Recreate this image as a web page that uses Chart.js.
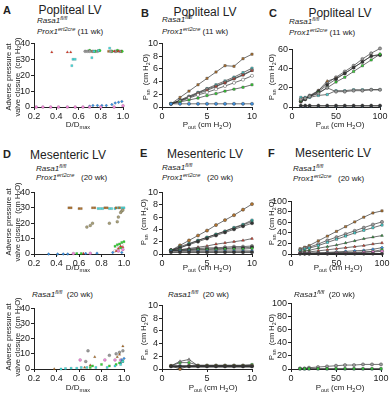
<!DOCTYPE html>
<html>
<head>
<meta charset="utf-8">
<script src="https://cdn.jsdelivr.net/npm/chart.js@4"></script>
<style>
body { margin: 0; background: #fff; }
#fig { position: relative; width: 391px; height: 395px; overflow: hidden; font-family: "Liberation Sans", Arial, sans-serif; color: #222; }
#fig canvas { position: absolute; }
.t { position: absolute; white-space: nowrap; line-height: 1; }
.lab { font-weight: bold; font-size: 11px; transform: translateY(-50%); }
.ttl { font-size: 12px; transform: translate(-50%, -50%); }
.gen { font-size: 8px; transform: translateY(-50%); }
.gen i { font-style: italic; }
.xt { font-size: 8px; transform: translate(-50%, -50%); }
.yt { font-size: 7.5px; transform: translate(-50%, -50%) rotate(-90deg); text-align: center; line-height: 1.25; }
sup { font-size: 0.7em; vertical-align: 0.5em; line-height: 0; }
sub { font-size: 0.7em; vertical-align: -0.3em; line-height: 0; }
</style>
</head>
<body>
<div id="fig"></div>
<script>
// colours used in the original
const brown = '#b5752e', cyan = '#45e0e0', green = '#33dd33', red = '#e8402c',
      blue = '#3b8fe0', grey = '#9a9a9a', dark = '#333', pink = '#f08ad8',
      olive = '#a8a07a', white = '#ffffff';

// ---- A: Popliteal LV, adverse pressure vs D/Dmax
const aRed = [[0.36,34.5],[0.50,34.5],[0.53,34.5],[0.92,35],[0.96,35]];
const aCyan = [[0.54,26],[0.55,30],[0.57,30],[0.72,31],[0.88,37],[0.74,35],[0.78,35.5]];
const aGreen = [[0.70,35.5],[0.75,35],[0.79,35.5],[0.90,35],[0.95,35.5],[0.99,35]];
const aGrey = [[0.66,35],[0.68,35],[0.70,35],[0.73,35],[0.77,35],[0.89,35],[0.93,35],[0.97,35]];
const aBrown = [[0.72,35],[0.87,35],[0.94,35],[0.98,35]];
const aBlue = [[0.70,0.5],[0.73,1],[0.77,1],[0.81,1],[0.85,1],[0.90,1.5],[0.93,2.5],[0.96,3],[0.99,3.5]];
const aPink = [[0.22,0],[0.28,0],[0.35,0],[0.42,0],[0.50,0],[0.57,0],[0.64,0],[0.70,0],[0.80,0],[0.92,0],[1.0,0.8]];

// ---- D (top): Mesenteric LV, Prox1 ert2cre
const dBrown = [[0.51,30],[0.53,30],[0.60,29.5],[0.62,29.5],[0.72,30],[0.74,30],[0.83,30],[0.85,30],[0.93,30],[0.96,30]];
const dCyan = [[0.77,29.5],[0.79,29.5],[0.81,29.5],[0.87,29.5],[0.89,29.5],[0.92,29.5],[0.95,30],[0.98,30],[1.0,30]];
const dOlive = [[0.67,17.5],[0.70,18.5],[0.72,20],[0.87,20],[0.94,21],[0.95,24],[0.97,27],[0.98,28],[0.99,28.5]];
const dGreen = [[0.58,0.3],[0.62,0.3],[0.92,5],[0.94,6],[0.96,6.5],[0.98,7.5],[1.0,8],[0.97,4]];
const dRed = [[0.64,0.3],[0.93,2],[0.95,3.5],[0.97,5],[0.99,4.5]];
const dPink = [[0.55,0.3],[0.70,0.5],[0.95,2],[0.99,3]];
const dBlue = [[0.33,0],[0.41,0],[0.46,0],[0.50,0],[0.66,0.3],[0.76,0.5],[0.90,1],[0.98,1]];
const dOpen = [[0.92,2],[0.95,4],[0.98,6]];

// ---- D (bottom): Mesenteric LV, Rasa1 fl/fl only
const d2Grey = [[0.66,5],[0.68,12],[0.87,9],[0.93,10],[0.96,11],[0.99,12]];
const d2Brown = [[0.38,0],[0.74,8],[0.94,8],[0.96,9.5],[0.99,15],[0.70,2.5],[0.65,1]];
const d2Pink = [[0.61,6],[0.83,6],[0.92,6],[0.97,6]];
const d2Green = [[0.70,1],[0.72,2],[0.80,3],[0.87,2],[0.93,3],[0.96,4],[0.99,5]];
const d2Cyan = [[0.44,0],[0.48,0.3],[0.53,0.5],[0.58,0.5],[0.62,1],[0.67,1],[0.75,1],[0.85,1],[0.92,2],[0.97,3],[0.99,5]];
const d2Blue = [[0.98,6],[1.0,7],[0.97,4]];

// ---- Pout steps
const pLow = [1,2,3,4,5,6,7,8,9,10];
const pHigh = [10,15,20,30,40,50,60,70,80,90,100];

// ---- B: Popliteal, Pout 1-10
const bBrown = [0.5,1.5,2.5,3.5,4.5,5.5,6.5,6.4,7.6,8.3];
const bCyan = [0.5,1.1,1.7,2.3,2.9,3.5,4.1,4.7,5.4,6.1];
const bGrey = [0.5,1.0,1.6,2.2,2.8,3.3,3.9,4.5,5.1,5.8];
const bRed = [0.5,1.0,1.5,2.1,2.6,3.2,3.8,4.4,5.0,5.7];
const bOpen = [0.5,0.9,1.4,1.9,2.3,2.8,3.3,3.8,4.3,4.9];
const bGreen = [0.5,0.8,1.1,1.4,1.8,2.1,2.5,2.8,3.1,3.5];
const bBlue = [0.5,0.5,0.5,0.5,0.5,0.5,0.5,0.5,0.5,0.5];

// ---- C: Popliteal, Pout 10-100
const cGrey = [6,9,12,17,25,31,37,43,50,56,61];
const cBrown = [5,8,11,17,27,30,35,41,47,53,55];
const cBlack = [6,8,11,16,23,29,35,41,47,53,54];
const cGreen = [7,9,11,15,20,26,31,37,43,49,55];
const cCyan = [10,10,10,12,13,17,17,18,18,18,18];
const cDark = [8,9,11,14,20,16,16,17,17,18,18];
const cBlue = [1,1,1,1,1,1,1,1,1,1,1];
const cFlat = [1.5,1.5,1.5,1.5,1.5,1.5,1.5,1.5,1.5,1.5,1.5];

// ---- E: Mesenteric, Pout 1-10
const eBrown = [0.6,1.4,2.2,3.0,3.8,4.7,5.5,6.3,7.2,8.1];
const eCyan = [0.6,1.0,1.6,2.2,2.7,3.2,3.7,4.3,4.8,5.5];
const eTeal = [0.6,1.2,1.7,2.2,2.7,3.2,3.7,4.2,4.7,5.3];
const eBlack = [0.6,1.0,1.5,2.0,2.5,3.0,3.5,4.0,4.5,5.0];
const eRed = [0.6,0.7,0.9,1.1,1.3,1.6,1.8,2.0,2.2,2.5];
const eGrey = [0.6,0.7,0.8,0.9,1.0,1.0,1.1,1.2,1.2,1.3];
const eDark = [0.6,0.6,0.7,0.8,0.8,0.9,0.9,1.0,1.0,1.1];
const eGreen = [0.6,0.6,0.6,0.7,0.7,0.7,0.8,0.8,0.8,0.9];
const eBlue = [0.5,0.5,0.5,0.5,0.5,0.5,0.5,0.5,0.5,0.5];
const eFlat = [0.3,0.3,0.3,0.3,0.3,0.3,0.3,0.3,0.3,0.3];

// ---- F: Mesenteric, Pout 10-100
const fBrown = [10,13,16,25,34,43,52,61,70,78,82];
const fGrey = [8,11,13,19,26,32,38,44,50,56,61];
const fCyan = [6,9,11,16,22,28,34,40,45,50,55];
const fGreen = [4,6,7,11,14,17,21,25,29,32,35];
const fRed = [2,3,4,6,8,10,12,14,16,19,21];
const fBlue = [1,1,2,2,3,4,5,6,7,9,12];
const fLime = [1,1,1,2,2,3,3,3,4,5,8];
const fPink = [1,1,1,1,1,2,2,2,3,4,5];
const fBlack = [0.5,0.5,0.5,0.5,0.5,0.5,0.5,0.5,0.5,0.5,0.5];

// ---- E/F bottom: Rasa1 fl/fl
const e2Green = [0.5,1.0,1.0,0.6,0.6,0.6,0.6,0.6,0.6,0.7];
const e2Tri = [0.5,1.2,1.5,0.5,0.5,0.5,0.5,0.5,0.5,0.5];
const e2Brown = [0.5,0.0,0.5,0.5,0.5,0.5,0.5,0.5,0.5,0.5];
const e2Cyan = [0.5,0.5,0.5,0.5,0.5,0.5,0.5,0.5,0.5,0.5];
const e2Black = [0.4,0.4,0.4,0.4,0.4,0.4,0.4,0.4,0.4,0.4];
const f2Grey = [1,1,2,3,4,5,6,6,7,7,7];
const f2Cyan = [0,0,0,0,0,0,0,0,0,0,0];
const f2Green = [0.5,0.5,0.5,0.5,0.5,0.5,0.5,0.5,0.5,0.5,0.5];

const fig = document.getElementById('fig');

function pts(xs, ys) { return xs.map((x, i) => ({ x: x, y: ys[i] })); }
function pairs(arr) { return arr.map(p => ({ x: p[0], y: p[1] })); }

function line(xs, ys, color, shape, lw) {
    return {
        data: pts(xs, ys), showLine: true, borderColor: dark, borderWidth: lw || 0.7,
        pointBackgroundColor: color, pointBorderColor: dark, pointBorderWidth: 0.4,
        pointRadius: 1.6, pointStyle: shape || 'circle', clip: false
    };
}
function dots(arr, color, shape) {
    return {
        data: pairs(arr), showLine: false, pointBackgroundColor: color,
        pointBorderColor: 'rgba(0,0,0,0.35)', pointBorderWidth: 0.4,
        pointRadius: 1.5, pointStyle: shape || 'circle', clip: false
    };
}

function axis(r, size, dir, fixed) {
    return {
        type: 'linear', min: r[0], max: r[1],
        grid: { display: true, drawOnChartArea: false, drawTicks: true, tickLength: 3, color: '#222' },
        border: { display: true, color: '#222', width: 1 },
        ticks: {
            stepSize: r[2], autoSkip: false, maxRotation: 0, padding: 1, color: '#222',
            font: { size: 9, family: 'Liberation Sans' },
            callback: v => fixed ? v.toFixed(1) : v
        },
        afterFit: s => { if (dir === 'x') s.height = size; else s.width = size; }
    };
}

function panel(box, xr, yr, datasets, fixedX) {
    const Wy = 24, Hx = 16, padR = 10, padT = 6;
    const c = document.createElement('canvas');
    const w = box.r - box.l + Wy + padR, h = box.b - box.t + padT + Hx;
    c.width = w; c.height = h;
    c.style.width = w + 'px'; c.style.height = h + 'px';
    c.style.left = (box.l - Wy) + 'px'; c.style.top = (box.t - padT) + 'px';
    fig.appendChild(c);
    new Chart(c, {
        type: 'scatter',
        data: { datasets: datasets },
        options: {
            responsive: false, animation: false, devicePixelRatio: 1,
            layout: { padding: { left: 0, right: padR, top: padT, bottom: 0 } },
            plugins: { legend: { display: false }, tooltip: { enabled: false } },
            scales: { x: axis(xr, Hx, 'x', fixedX), y: axis(yr, Wy, 'y', false) }
        }
    });
}

function txt(cls, html, x, y) {
    const d = document.createElement('div');
    d.className = 't ' + cls;
    d.innerHTML = html;
    d.style.left = x + 'px'; d.style.top = y + 'px';
    fig.appendChild(d);
}

const dRange = [0.2, 1.0, 0.2];

// A
panel({ l: 34, r: 123, t: 43, b: 107 }, dRange, [0, 40, 10], [
    dots(aPink, pink), dots(aBlue, blue, 'rectRot'), dots(aRed, red, 'triangle'),
    dots(aCyan, cyan, 'rect'), dots(aGrey, grey), dots(aBrown, brown, 'rect'), dots(aGreen, green)
], true);
// B
panel({ l: 162, r: 252, t: 43, b: 107 }, [0, 10, 5], [0, 10, 2], [
    line(pLow, bBlue, blue), line(pLow, bGreen, green, 'rect'), line(pLow, bOpen, white),
    line(pLow, bRed, red, 'triangle'), line(pLow, bGrey, grey), line(pLow, bCyan, cyan, 'rect'),
    line(pLow, bBrown, brown, 'rect')
]);
// C
panel({ l: 292, r: 380, t: 49, b: 107 }, [0, 100, 50], [0, 60, 20], [
    line(pHigh, cFlat, dark), line(pHigh, cBlue, blue, 'rectRot'), line(pHigh, cDark, grey),
    line(pHigh, cCyan, cyan, 'rect'), line(pHigh, cGreen, green, 'rect'), line(pHigh, cBlack, dark),
    line(pHigh, cBrown, brown, 'triangle'), line(pHigh, cGrey, grey)
]);
// D top
panel({ l: 34, r: 124, t: 192, b: 254 }, dRange, [0, 40, 10], [
    dots(dBlue, blue, 'rectRot'), dots(dPink, pink), dots(dRed, red, 'triangle'),
    dots(dGreen, green, 'rect'), dots(dOpen, white), dots(dOlive, olive),
    dots(dBrown, brown, 'rect'), dots(dCyan, cyan, 'rect')
], true);
// E top
panel({ l: 162, r: 252, t: 192, b: 254 }, [0, 10, 5], [0, 10, 2], [
    line(pLow, eFlat, dark, 'circle', 1.4), line(pLow, eBlue, blue, 'rectRot'), line(pLow, eGreen, green, 'rect'),
    line(pLow, eDark, dark), line(pLow, eGrey, grey), line(pLow, eRed, red, 'triangle'),
    line(pLow, eBlack, dark), line(pLow, eTeal, '#2ab89a', 'rect'), line(pLow, eCyan, cyan, 'rect'),
    line(pLow, eBrown, brown)
]);
// F top
panel({ l: 291, r: 382, t: 201, b: 254 }, [0, 100, 50], [0, 100, 20], [
    line(pHigh, fBlack, dark, 'circle', 1.4), line(pHigh, fPink, pink), line(pHigh, fLime, green, 'rect'),
    line(pHigh, fBlue, blue, 'rectRot'), line(pHigh, fRed, red, 'triangle'), line(pHigh, fGreen, '#2e9e3e', 'triangle'),
    line(pHigh, fCyan, cyan, 'rect'), line(pHigh, fGrey, grey), line(pHigh, fBrown, brown, 'rect')
]);
// D bottom
panel({ l: 34, r: 124, t: 308, b: 369 }, dRange, [0, 40, 10], [
    dots(d2Cyan, cyan, 'rect'), dots(d2Green, green, 'rect'), dots(d2Blue, blue, 'rectRot'),
    dots(d2Pink, pink), dots(d2Brown, brown, 'triangle'), dots(d2Grey, grey)
], true);
// E bottom
panel({ l: 162, r: 252, t: 305, b: 369 }, [0, 10, 5], [0, 10, 2], [
    line(pLow, e2Black, dark, 'circle', 2), line(pLow, e2Brown, brown), line(pLow, e2Cyan, cyan, 'rect'),
    line(pLow, e2Tri, grey, 'triangle'), line(pLow, e2Green, green, 'rect')
]);
// F bottom
panel({ l: 291, r: 381, t: 303, b: 369 }, [0, 100, 50], [0, 100, 20], [
    line(pHigh, f2Green, green, 'rect'), line(pHigh, f2Cyan, cyan, 'rect'), line(pHigh, f2Grey, grey)
]);

// panel letters and titles
txt('lab', 'A', 3, 10); txt('lab', 'B', 141, 13); txt('lab', 'C', 269, 13);
txt('lab', 'D', 3, 154); txt('lab', 'E', 140, 153); txt('lab', 'F', 268, 153);
txt('ttl', 'Popliteal LV', 70, 10); txt('ttl', 'Popliteal LV', 205, 12); txt('ttl', 'Popliteal LV', 340, 13);
txt('ttl', 'Mesenteric LV', 68, 155); txt('ttl', 'Mesenteric LV', 205, 154); txt('ttl', 'Mesenteric LV', 333, 153);

// genotype lines
const rasa = '<i>Rasa1</i><sup><i>fl/fl</i></sup>';
const prox = '<i>Prox1</i><sup><i>ert2cre</i></sup>';
txt('gen', rasa, 37, 21); txt('gen', prox + ' (11 wk)', 37, 32);
txt('gen', rasa, 162, 20); txt('gen', prox + ' (11 wk)', 162, 32);
txt('gen', rasa, 289, 22); txt('gen', prox + ' (11 wk)', 289, 33);
txt('gen', rasa, 36, 169); txt('gen', prox + '&nbsp;&nbsp;&nbsp;(20 wk)', 36, 178);
txt('gen', rasa, 162, 168); txt('gen', prox + '&nbsp;&nbsp;&nbsp;(20 wk)', 162, 178);
txt('gen', rasa, 293, 169); txt('gen', prox + '&nbsp;&nbsp;&nbsp;(20 wk)', 293, 179);
txt('gen', rasa + '&nbsp;&nbsp;(20 wk)', 32, 295);
txt('gen', rasa + '&nbsp;&nbsp;(20 wk)', 168, 295);
txt('gen', rasa + '&nbsp;&nbsp;(20 wk)', 294, 295);

// axis titles
const adv = 'Adverse pressure at<br>valve closure&nbsp; (cm H<sub>2</sub>O)';
const psn = 'P<sub>sn</sub>&nbsp; (cm H<sub>2</sub>O)';
const pout = 'P<sub>out</sub> (cm H<sub>2</sub>O)';
const dd = 'D/D<sub>max</sub>';
txt('yt', adv, 13, 77); txt('yt', adv, 13, 222); txt('yt', adv, 13, 337);
txt('yt', psn, 146, 77); txt('yt', psn, 272, 77);
txt('yt', psn, 144, 222); txt('yt', psn, 272, 222);
txt('yt', psn, 144, 337); txt('yt', psn, 272, 337);
txt('xt', dd, 78, 125); txt('xt', pout, 207, 125); txt('xt', pout, 340, 125);
txt('xt', dd, 78, 268); txt('xt', pout, 207, 268); txt('xt', pout, 338, 268);
txt('xt', dd, 78, 388); txt('xt', pout, 213, 388); txt('xt', pout, 340, 388);
</script>
</body>
</html>
